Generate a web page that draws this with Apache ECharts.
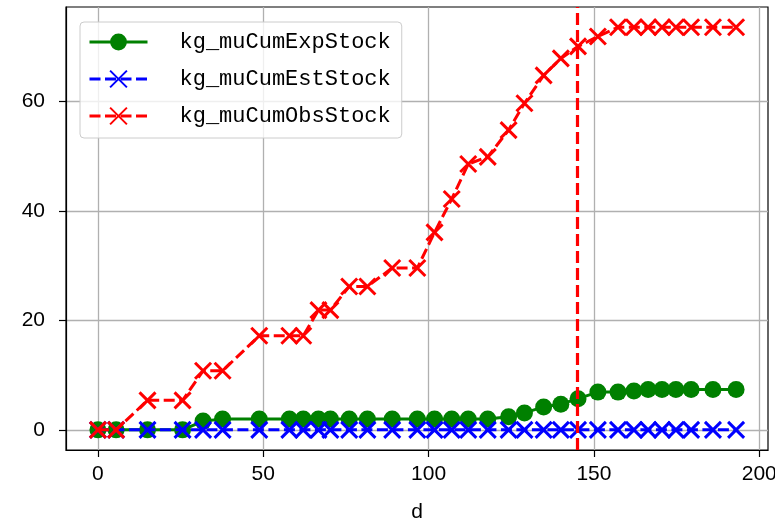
<!DOCTYPE html>
<html>
<head>
<meta charset="utf-8">
<script src="https://cdn.jsdelivr.net/npm/echarts@6/dist/echarts.min.js"></script>
<style>
html,body{margin:0;padding:0;background:#fff;}
#chart{width:775px;height:520px;}
</style>
</head>
<body>
<div id="chart"></div>
<script>
const dValues = [0, 5.5, 15, 25.6, 31.8, 37.7, 48.8, 57.9, 62.1, 66.7, 70.3, 76, 81.5, 89, 96.6, 101.8, 107, 112, 117.9, 124.2, 129, 134.8, 140, 145.2, 151.2, 157.3, 162.1, 166.4, 170.6, 174.8, 179.4, 186, 193];
const expStock = [0, 0, 0, 0, 1.6, 2.0, 2.0, 2.0, 2.0, 2.0, 2.0, 2.0, 2.0, 2.0, 2.0, 2.0, 2.0, 2.0, 2.0, 2.4, 3.1, 4.2, 4.7, 5.7, 6.9, 6.9, 7.1, 7.4, 7.4, 7.4, 7.4, 7.4, 7.4];
const estStock = [0, 0, 0, 0, 0, 0, 0, 0, 0, 0, 0, 0, 0, 0, 0, 0, 0, 0, 0, 0, 0, 0, 0, 0, 0, 0, 0, 0, 0, 0, 0, 0, 0];
const obsStock = [0, 0, 5.4, 5.4, 10.8, 10.8, 17.2, 17.2, 17.2, 21.9, 21.9, 26.2, 26.2, 29.6, 29.6, 36.1, 42.2, 48.6, 49.9, 54.8, 59.7, 64.8, 67.9, 70.1, 71.9, 73.6, 73.6, 73.6, 73.6, 73.6, 73.6, 73.6, 73.6];
const seriesNames = ['kg_muCumExpStock', 'kg_muCumEstStock', 'kg_muCumObsStock'];
const vLineX = 145;
const xTicks = [0, 50, 100, 150, 200];
const yTicks = [0, 20, 40, 60];
const xRange = [-9.65, 202.65];
const yRange = [-3.68, 77.3];

const pair = arr => dValues.map((d, i) => [d, arr[i]]);
const crossPath = 'path://M0,0L10,10M10,0L0,10';
const MONO = 'Liberation Mono';
const SANS = 'Liberation Sans';

const chart = echarts.init(document.getElementById('chart'), null, {renderer: 'canvas'});
chart.setOption({
  animation: false,
  backgroundColor: '#fff',
  textStyle: {fontFamily: SANS, color: '#000'},
  grid: {left: 66, right: 7, top: 7, bottom: 70, show: true, borderColor: '#000', borderWidth: 1.2, backgroundColor: 'transparent', containLabel: false, outerBoundsMode: 'none'},
  legend: {
    orient: 'vertical', left: 80, top: 22, width: 321,
    padding: [9, 11, 11, 8],
    itemWidth: 58, itemHeight: 21, itemGap: 15,
    backgroundColor: 'rgba(255,255,255,0.8)', borderColor: '#cccccc', borderWidth: 1, borderRadius: 4,
    lineStyle: {width: 3},
    textStyle: {fontFamily: MONO, fontSize: 22, color: '#000', padding: [0, 0, 0, 27]},
    data: seriesNames
  },
  xAxis: {
    type: 'value', min: xRange[0], max: xRange[1],
    name: 'd', nameLocation: 'middle', nameGap: 52,
    nameTextStyle: {fontFamily: SANS, fontSize: 21, color: '#000'},
    axisLine: {show: true, onZero: false, lineStyle: {color: '#000', width: 1.2}},
    axisTick: {show: true, length: 7, lineStyle: {color: '#000', width: 1.2}, customValues: xTicks},
    axisLabel: {fontFamily: SANS, fontSize: 21, color: '#000', margin: 14, customValues: xTicks},
    splitLine: {show: true, lineStyle: {color: '#b0b0b0', width: 1.3}}
  },
  yAxis: {
    type: 'value', min: yRange[0], max: yRange[1],
    axisLine: {show: true, onZero: false, lineStyle: {color: '#000', width: 1.2}},
    axisTick: {show: true, length: 7, lineStyle: {color: '#000', width: 1.2}, customValues: yTicks},
    axisLabel: {fontFamily: SANS, fontSize: 21, color: '#000', margin: 21, customValues: yTicks},
    splitLine: {show: true, lineStyle: {color: '#b0b0b0', width: 1.3}}
  },
  series: [
    {
      name: seriesNames[0], type: 'line', data: pair(expStock),
      symbol: 'circle', symbolSize: 17, showAllSymbol: true,
      lineStyle: {color: '#008000', width: 3},
      itemStyle: {color: '#008000', borderWidth: 0},
      z: 2
    },
    {
      name: seriesNames[1], type: 'line', data: pair(estStock),
      symbol: crossPath, symbolSize: 16, showAllSymbol: true,
      lineStyle: {color: '#0000ff', width: 3, type: [11, 4.5]},
      itemStyle: {color: '#0000ff', borderColor: '#0000ff', borderWidth: 3},
      z: 3
    },
    {
      name: seriesNames[2], type: 'line', data: pair(obsStock),
      symbol: crossPath, symbolSize: 16, showAllSymbol: true,
      lineStyle: {color: '#ff0000', width: 3, type: [11, 4.5]},
      itemStyle: {color: '#ff0000', borderColor: '#ff0000', borderWidth: 3},
      z: 4,
      markLine: {
        silent: true, symbol: ['none', 'none'],
        label: {show: false},
        lineStyle: {color: '#ff0000', width: 3.2, type: [12, 5]},
        data: [{xAxis: vLineX}]
      }
    }
  ]
});
</script>
</body>
</html>
